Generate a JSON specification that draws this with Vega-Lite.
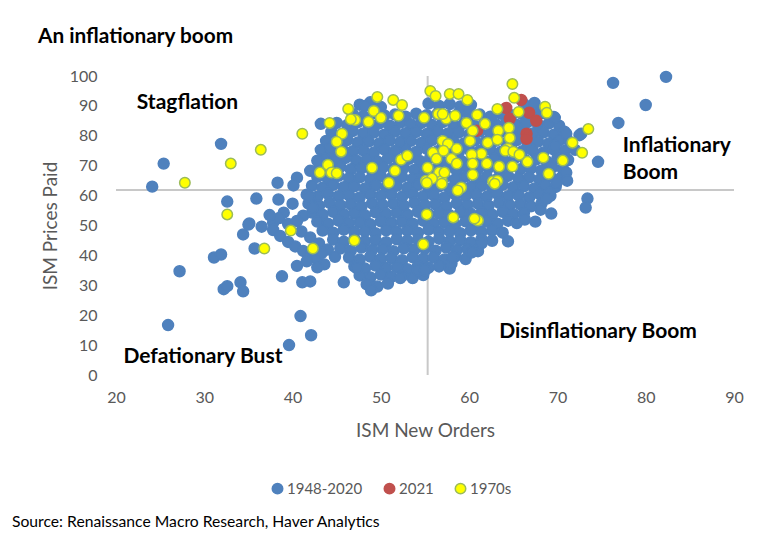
{
"$schema":"https://vega.github.io/schema/vega-lite/v6.json",
"width":618,"height":299,
"autosize":{"type":"none"},
"padding":{"left":116,"top":76,"right":31,"bottom":163},
"background":"white",
"title":{"text":"An inflationary boom","anchor":"start","frame":"group","dx":-78,"dy":-16,"font":"Lato","fontSize":20.8,"fontWeight":"bold","color":"black"},
"config":{"view":{"stroke":null},
"axis":{"domain":false,"ticks":false,"tickSize":0,"grid":false,"labelOverlap":false,"labelFlush":false,"labelFont":"Lato","labelFontSize":16,"labelColor":"#595959","titleFont":"Lato","titleFontSize":19,"titleFontWeight":"normal","titleColor":"#595959"},
"axisX":{"labelPadding":14,"titlePadding":16},
"axisY":{"labelPadding":19,"titlePadding":9},
"legend":{"orient":"none","legendX":154,"legendY":405,"direction":"horizontal","padding":0,"labelFont":"Lato","labelFontSize":15,"labelColor":"#595959","labelOffset":2,"columnPadding":18,"symbolSize":110,"symbolStrokeWidth":1.5,"symbolType":"circle","title":null}},
"datasets":{
"blue":[
{"x":47.6,"y":90.4},{"x":48.8,"y":91.2},{"x":50,"y":89.6},{"x":55.4,"y":90.8},{"x":56.6,"y":90},{"x":57.8,"y":90.6},{"x":59,"y":89.8},{"x":60.2,"y":90.3},{"x":66.2,"y":90.6},{"x":67.4,"y":89.4},
{"x":46.8,"y":87.3},{"x":48,"y":86.6},{"x":49.2,"y":87.6},{"x":50.4,"y":86.8},{"x":51.6,"y":87.1},{"x":52.8,"y":86.4},{"x":54,"y":87.4},{"x":55.2,"y":86.9},{"x":56.4,"y":87.3},{"x":57.6,"y":86.6},{"x":58.8,"y":87.6},{"x":60,"y":86.8},{"x":61.2,"y":87.1},{"x":62.4,"y":86.4},{"x":63.6,"y":87.4},{"x":64.8,"y":86.9},{"x":66,"y":87.3},{"x":67.2,"y":86.6},{"x":68.4,"y":87.6},{"x":69.6,"y":86.3},
{"x":45,"y":84.3},{"x":46.2,"y":83.6},{"x":47.4,"y":84.6},{"x":48.6,"y":83.8},{"x":49.8,"y":84.1},{"x":51,"y":83.4},{"x":52.2,"y":84.4},{"x":53.4,"y":83.9},{"x":54.6,"y":84.3},{"x":55.8,"y":83.6},{"x":57,"y":84.6},{"x":58.2,"y":83.8},{"x":59.4,"y":84.1},{"x":60.6,"y":83.4},{"x":61.8,"y":84.4},{"x":63,"y":83.9},{"x":64.2,"y":84.3},{"x":65.4,"y":83.6},{"x":66.6,"y":84.6},{"x":67.8,"y":83.8},{"x":69,"y":84.1},{"x":70.2,"y":83.4},
{"x":44.4,"y":81.3},{"x":45.6,"y":80.6},{"x":46.8,"y":81.6},{"x":48,"y":80.8},{"x":49.2,"y":81.1},{"x":50.4,"y":80.4},{"x":51.6,"y":81.4},{"x":52.8,"y":80.9},{"x":54,"y":81.3},{"x":55.2,"y":80.6},{"x":56.4,"y":81.6},{"x":57.6,"y":80.8},{"x":58.8,"y":81.1},{"x":60,"y":80.4},{"x":61.2,"y":81.4},{"x":62.4,"y":80.9},{"x":63.6,"y":81.3},{"x":64.8,"y":80.6},{"x":66,"y":81.6},{"x":67.2,"y":80.8},{"x":68.4,"y":81.1},{"x":69.6,"y":80.4},{"x":70.8,"y":81.4},
{"x":43.8,"y":78.3},{"x":45,"y":77.6},{"x":46.2,"y":78.6},{"x":47.4,"y":77.8},{"x":48.6,"y":78.1},{"x":49.8,"y":77.4},{"x":51,"y":78.4},{"x":52.2,"y":77.9},{"x":53.4,"y":78.3},{"x":54.6,"y":77.6},{"x":55.8,"y":78.6},{"x":57,"y":77.8},{"x":58.2,"y":78.1},{"x":59.4,"y":77.4},{"x":60.6,"y":78.4},{"x":61.8,"y":77.9},{"x":63,"y":78.3},{"x":64.2,"y":77.6},{"x":65.4,"y":78.6},{"x":66.6,"y":77.8},{"x":67.8,"y":78.1},{"x":69,"y":77.4},{"x":70.2,"y":78.4},{"x":71.4,"y":77.9},
{"x":43.2,"y":75.3},{"x":44.4,"y":74.6},{"x":45.6,"y":75.6},{"x":46.8,"y":74.8},{"x":48,"y":75.1},{"x":49.2,"y":74.4},{"x":50.4,"y":75.4},{"x":51.6,"y":74.9},{"x":52.8,"y":75.3},{"x":54,"y":74.6},{"x":55.2,"y":75.6},{"x":56.4,"y":74.8},{"x":57.6,"y":75.1},{"x":58.8,"y":74.4},{"x":60,"y":75.4},{"x":61.2,"y":74.9},{"x":62.4,"y":75.3},{"x":63.6,"y":74.6},{"x":64.8,"y":75.6},{"x":66,"y":74.8},{"x":67.2,"y":75.1},{"x":68.4,"y":74.4},{"x":69.6,"y":75.4},{"x":70.8,"y":74.9},{"x":72,"y":75.3},
{"x":43.6,"y":72.3},{"x":44.8,"y":71.6},{"x":46,"y":72.6},{"x":47.2,"y":71.8},{"x":48.4,"y":72.1},{"x":49.6,"y":71.4},{"x":50.8,"y":72.4},{"x":52,"y":71.9},{"x":53.2,"y":72.3},{"x":54.4,"y":71.6},{"x":55.6,"y":72.6},{"x":56.8,"y":71.8},{"x":58,"y":72.1},{"x":59.2,"y":71.4},{"x":60.4,"y":72.4},{"x":61.6,"y":71.9},{"x":62.8,"y":72.3},{"x":64,"y":71.6},{"x":65.2,"y":72.6},{"x":66.4,"y":71.8},{"x":67.6,"y":72.1},{"x":68.8,"y":71.4},{"x":70,"y":72.4},{"x":71.2,"y":71.9},
{"x":43,"y":69.3},{"x":44.2,"y":68.6},{"x":45.4,"y":69.6},{"x":46.6,"y":68.8},{"x":47.8,"y":69.1},{"x":49,"y":68.4},{"x":50.2,"y":69.4},{"x":51.4,"y":68.9},{"x":52.6,"y":69.3},{"x":53.8,"y":68.6},{"x":55,"y":69.6},{"x":56.2,"y":68.8},{"x":57.4,"y":69.1},{"x":58.6,"y":68.4},{"x":59.8,"y":69.4},{"x":61,"y":68.9},{"x":62.2,"y":69.3},{"x":63.4,"y":68.6},{"x":64.6,"y":69.6},{"x":65.8,"y":68.8},{"x":67,"y":69.1},{"x":68.2,"y":68.4},{"x":69.4,"y":69.4},{"x":70.6,"y":68.9},
{"x":42.8,"y":66.3},{"x":44,"y":65.6},{"x":45.2,"y":66.6},{"x":46.4,"y":65.8},{"x":47.6,"y":66.1},{"x":48.8,"y":65.4},{"x":50,"y":66.4},{"x":51.2,"y":65.9},{"x":52.4,"y":66.3},{"x":53.6,"y":65.6},{"x":54.8,"y":66.6},{"x":56,"y":65.8},{"x":57.2,"y":66.1},{"x":58.4,"y":65.4},{"x":59.6,"y":66.4},{"x":60.8,"y":65.9},{"x":62,"y":66.3},{"x":63.2,"y":65.6},{"x":64.4,"y":66.6},{"x":65.6,"y":65.8},{"x":66.8,"y":66.1},{"x":68,"y":65.4},{"x":69.2,"y":66.4},{"x":70.4,"y":65.9},
{"x":42.2,"y":63.3},{"x":43.4,"y":62.6},{"x":44.6,"y":63.6},{"x":45.8,"y":62.8},{"x":47,"y":63.1},{"x":48.2,"y":62.4},{"x":49.4,"y":63.4},{"x":50.6,"y":62.9},{"x":51.8,"y":63.3},{"x":53,"y":62.6},{"x":54.2,"y":63.6},{"x":55.4,"y":62.8},{"x":56.6,"y":63.1},{"x":57.8,"y":62.4},{"x":59,"y":63.4},{"x":60.2,"y":62.9},{"x":61.4,"y":63.3},{"x":62.6,"y":62.6},{"x":63.8,"y":63.6},{"x":65,"y":62.8},{"x":66.2,"y":63.1},{"x":67.4,"y":62.4},{"x":68.6,"y":63.4},{"x":69.8,"y":62.9},
{"x":41.6,"y":60.3},{"x":42.8,"y":59.6},{"x":44,"y":60.6},{"x":45.2,"y":59.8},{"x":46.4,"y":60.1},{"x":47.6,"y":59.4},{"x":48.8,"y":60.4},{"x":50,"y":59.9},{"x":51.2,"y":60.3},{"x":52.4,"y":59.6},{"x":53.6,"y":60.6},{"x":54.8,"y":59.8},{"x":56,"y":60.1},{"x":57.2,"y":59.4},{"x":58.4,"y":60.4},{"x":59.6,"y":59.9},{"x":60.8,"y":60.3},{"x":62,"y":59.6},{"x":63.2,"y":60.6},{"x":64.4,"y":59.8},{"x":65.6,"y":60.1},{"x":66.8,"y":59.4},{"x":68,"y":60.4},{"x":69.2,"y":59.9},
{"x":41.8,"y":57.3},{"x":43,"y":56.6},{"x":44.2,"y":57.6},{"x":45.4,"y":56.8},{"x":46.6,"y":57.1},{"x":47.8,"y":56.4},{"x":49,"y":57.4},{"x":50.2,"y":56.9},{"x":51.4,"y":57.3},{"x":52.6,"y":56.6},{"x":53.8,"y":57.6},{"x":55,"y":56.8},{"x":56.2,"y":57.1},{"x":57.4,"y":56.4},{"x":58.6,"y":57.4},{"x":59.8,"y":56.9},{"x":61,"y":57.3},{"x":62.2,"y":56.6},{"x":63.4,"y":57.6},{"x":64.6,"y":56.8},{"x":65.8,"y":57.1},{"x":67,"y":56.4},{"x":68.2,"y":57.4},
{"x":42.2,"y":54.3},{"x":43.4,"y":53.6},{"x":44.6,"y":54.6},{"x":45.8,"y":53.8},{"x":47,"y":54.1},{"x":48.2,"y":53.4},{"x":49.4,"y":54.4},{"x":50.6,"y":53.9},{"x":51.8,"y":54.3},{"x":53,"y":53.6},{"x":54.2,"y":54.6},{"x":55.4,"y":53.8},{"x":56.6,"y":54.1},{"x":57.8,"y":53.4},{"x":59,"y":54.4},{"x":60.2,"y":53.9},{"x":61.4,"y":54.3},{"x":62.6,"y":53.6},{"x":63.8,"y":54.6},{"x":65,"y":53.8},{"x":66.2,"y":54.1},
{"x":42.8,"y":51.3},{"x":44,"y":50.6},{"x":45.2,"y":51.6},{"x":46.4,"y":50.8},{"x":47.6,"y":51.1},{"x":48.8,"y":50.4},{"x":50,"y":51.4},{"x":51.2,"y":50.9},{"x":52.4,"y":51.3},{"x":53.6,"y":50.6},{"x":54.8,"y":51.6},{"x":56,"y":50.8},{"x":57.2,"y":51.1},{"x":58.4,"y":50.4},{"x":59.6,"y":51.4},{"x":60.8,"y":50.9},{"x":62,"y":51.3},{"x":63.2,"y":50.6},{"x":64.4,"y":51.6},{"x":65.4,"y":50.8},
{"x":43.4,"y":48.3},{"x":44.6,"y":47.6},{"x":45.8,"y":48.6},{"x":47,"y":47.8},{"x":48.2,"y":48.1},{"x":49.4,"y":47.4},{"x":50.6,"y":48.4},{"x":51.8,"y":47.9},{"x":53,"y":48.3},{"x":54.2,"y":47.6},{"x":55.4,"y":48.6},{"x":56.6,"y":47.8},{"x":57.8,"y":48.1},{"x":59,"y":47.4},{"x":60.2,"y":48.4},{"x":61.4,"y":47.9},{"x":62.6,"y":48.3},{"x":63.8,"y":47.6},
{"x":44.6,"y":45.3},{"x":45.8,"y":44.6},{"x":47,"y":45.6},{"x":48.2,"y":44.8},{"x":49.4,"y":45.1},{"x":50.6,"y":44.4},{"x":51.8,"y":45.4},{"x":53,"y":44.9},{"x":54.2,"y":45.3},{"x":55.4,"y":44.6},{"x":56.6,"y":45.6},{"x":57.8,"y":44.8},{"x":59,"y":45.1},{"x":60.2,"y":44.4},{"x":61.4,"y":45.4},{"x":62.6,"y":44.9},
{"x":45.4,"y":42.3},{"x":46.6,"y":41.6},{"x":47.8,"y":42.6},{"x":49,"y":41.8},{"x":50.2,"y":42.1},{"x":51.4,"y":41.4},{"x":52.6,"y":42.4},{"x":53.8,"y":41.9},{"x":55,"y":42.3},{"x":56.2,"y":41.6},{"x":57.4,"y":42.6},{"x":58.6,"y":41.8},{"x":59.8,"y":42.1},{"x":61,"y":41.4},
{"x":46.4,"y":39.3},{"x":47.6,"y":38.6},{"x":48.8,"y":39.6},{"x":50,"y":38.8},{"x":51.2,"y":39.1},{"x":52.4,"y":38.4},{"x":53.6,"y":39.4},{"x":54.8,"y":38.9},{"x":56,"y":39.3},{"x":57.2,"y":38.6},{"x":58.4,"y":39.6},{"x":59.6,"y":38.8},
{"x":47,"y":36.3},{"x":48.2,"y":35.6},{"x":49.4,"y":36.6},{"x":50.6,"y":35.8},{"x":51.8,"y":36.1},{"x":53,"y":35.4},{"x":54.2,"y":36.4},{"x":55.4,"y":35.9},{"x":56.6,"y":36.3},{"x":57.8,"y":35.6},
{"x":47.6,"y":33.3},{"x":48.8,"y":32.6},{"x":50,"y":33.6},{"x":51.2,"y":32.8},{"x":52.4,"y":33.1},{"x":53.6,"y":32.4},{"x":54.8,"y":33.4},
{"x":48.4,"y":30.3},{"x":49.6,"y":29.6},{"x":50.8,"y":30.6},
{"x":24.1,"y":63},{"x":25.4,"y":70.7},{"x":31.9,"y":77.3},{"x":32.6,"y":58},{"x":35.9,"y":59},{"x":38.3,"y":64.3},{"x":38.4,"y":58.7},{"x":35.1,"y":50.7},{"x":40.5,"y":66},{"x":40.1,"y":63.4},{"x":41.9,"y":59.7},{"x":37.8,"y":51},{"x":39,"y":54.3},{"x":40,"y":57.3},{"x":43.2,"y":84},{"x":44.3,"y":76},{"x":42.8,"y":71.7},{"x":42,"y":68.3},{"x":41.2,"y":53.3},{"x":42.3,"y":56},
{"x":27.2,"y":34.7},{"x":25.9,"y":16.7},{"x":31.1,"y":39.3},{"x":31.9,"y":40.3},{"x":32.2,"y":28.7},{"x":32.6,"y":29.7},{"x":34.1,"y":31},{"x":34.4,"y":28},{"x":34.4,"y":47},{"x":35,"y":50.3},{"x":35.7,"y":42.3},{"x":38.8,"y":33},{"x":41.1,"y":31},{"x":42,"y":31.3},{"x":45.8,"y":31},{"x":48.9,"y":28.3},{"x":40.9,"y":19.7},{"x":42.1,"y":13.3},{"x":39.6,"y":10},{"x":52.2,"y":32.4},{"x":54.2,"y":35},{"x":47.3,"y":35.7},
{"x":36.5,"y":49.6},{"x":37.8,"y":48.5},{"x":38.6,"y":46.5},{"x":39.5,"y":44.5},{"x":40.3,"y":43},{"x":41.2,"y":41.5},{"x":42,"y":40},{"x":42.8,"y":38.5},{"x":43.6,"y":37},{"x":40.5,"y":36.5},{"x":41.6,"y":38},{"x":42.8,"y":36},{"x":41,"y":48},{"x":42,"y":46},{"x":43,"y":44},{"x":44,"y":42},{"x":44.8,"y":39.5},{"x":39.5,"y":50.5},{"x":40.5,"y":51.5},{"x":38.5,"y":52.5},{"x":37.4,"y":53.5},{"x":43.3,"y":40.8},
{"x":76.3,"y":97.7},{"x":82.3,"y":99.7},{"x":80,"y":90.3},{"x":76.9,"y":84.3},{"x":74.6,"y":71.3},{"x":73.4,"y":59},{"x":73.2,"y":56},{"x":72.7,"y":80.7},{"x":71,"y":80.7},{"x":69.7,"y":86},{"x":67.4,"y":91},{"x":72.5,"y":80.2},{"x":69.7,"y":76.7},{"x":71,"y":72.3},{"x":71,"y":67.7},{"x":69.9,"y":64.3},{"x":71.1,"y":65},{"x":69.1,"y":61},{"x":68.8,"y":59},{"x":68.1,"y":55.3},{"x":69.3,"y":54},{"x":66.3,"y":52},{"x":67.5,"y":51.3},{"x":64.4,"y":44.7},{"x":61.4,"y":44},{"x":60.3,"y":41},{"x":58,"y":37.3},{"x":58.1,"y":39.3},{"x":55,"y":35},
{"x":48.2,"y":90},{"x":60,"y":89},{"x":62.5,"y":86},{"x":66.4,"y":84.3}
],
"red":[{"x":64.2,"y":89.3},{"x":65.9,"y":92},{"x":64.6,"y":85.7},{"x":66.8,"y":87.7},{"x":67.6,"y":85},{"x":66.5,"y":80.7},{"x":66.5,"y":79},{"x":60.9,"y":81.7}],
"yellow":[
{"x":41.1,"y":80.7},{"x":44.2,"y":84.3},{"x":46.3,"y":89},{"x":47.1,"y":85.3},{"x":46.6,"y":85.5},{"x":48.6,"y":84.7},{"x":49.6,"y":93},{"x":49.2,"y":88.3},{"x":50,"y":86},{"x":51.4,"y":92},{"x":52.4,"y":90.3},{"x":52,"y":86.7},{"x":54.9,"y":86},{"x":55.6,"y":95},{"x":56.2,"y":93.3},{"x":57.8,"y":94},{"x":56.5,"y":87.3},{"x":57.4,"y":85.7},{"x":58.4,"y":86.7},{"x":45.6,"y":80.7},{"x":45,"y":78},{"x":45.5,"y":74.7},{"x":44,"y":70.3},{"x":43.1,"y":67.7},{"x":44.4,"y":67.7},{"x":45,"y":67.5},{"x":49,"y":69.3},{"x":50.9,"y":64.3},{"x":51.6,"y":68.3},{"x":52.3,"y":72},{"x":53,"y":73.3},{"x":55.3,"y":69.3},{"x":55.1,"y":65},{"x":55.9,"y":74.3},{"x":56.3,"y":72.3},{"x":57,"y":78.3},{"x":57.6,"y":77.3},{"x":58,"y":72.3},{"x":58.6,"y":70.7},{"x":56.6,"y":67.7},{"x":56.9,"y":65},{"x":55.8,"y":65.7},{"x":58.6,"y":75.7},
{"x":64.9,"y":97.3},{"x":65.1,"y":92.7},{"x":58.8,"y":94},{"x":59.8,"y":92},{"x":63.2,"y":89},{"x":65.6,"y":88},{"x":68.6,"y":89.7},{"x":68.8,"y":87.7},{"x":73.5,"y":82.3},{"x":71.7,"y":77.7},{"x":72.8,"y":74.3},{"x":70.6,"y":71.7},{"x":68.4,"y":72.7},{"x":66.6,"y":71.3},{"x":69,"y":67.3},{"x":57,"y":87.3},{"x":59.7,"y":84.3},{"x":60.9,"y":87},{"x":61.8,"y":84},{"x":60.4,"y":81.7},{"x":60.1,"y":78.3},{"x":62.1,"y":77.7},{"x":63.3,"y":81.7},{"x":64.5,"y":82.7},{"x":64.6,"y":79.3},{"x":63.2,"y":78.7},{"x":64.4,"y":75.7},{"x":64.1,"y":75},{"x":65,"y":74.7},{"x":65.7,"y":73.7},{"x":61.4,"y":74},{"x":60.3,"y":73.7},{"x":57.1,"y":75},{"x":60.4,"y":70.7},{"x":62,"y":70.7},{"x":63.4,"y":69.7},{"x":64.9,"y":69.7},{"x":60.4,"y":67},{"x":62.7,"y":64.7},{"x":63.2,"y":65},{"x":59.1,"y":62.7},{"x":57.2,"y":67.7},{"x":55.2,"y":64.3},{"x":56.9,"y":64},{"x":58.7,"y":61.7},{"x":55.2,"y":53.7},{"x":58.2,"y":52.7},{"x":47,"y":45},{"x":42.3,"y":42.3},{"x":54.8,"y":43.7},{"x":62.9,"y":64},{"x":61,"y":51.7},{"x":60.6,"y":52.3},
{"x":27.8,"y":64.3},{"x":33,"y":70.7},{"x":36.4,"y":75.3},{"x":32.6,"y":53.7},{"x":39.8,"y":48.3},{"x":36.8,"y":42.3}
]},
"layer":[
{"data":{"values":[{}]},"mark":{"type":"rule","color":"#C8C8C8","strokeWidth":2},"encoding":{"x":{"datum":55.3,"type":"quantitative","scale":{"domain":[20,90],"nice":false,"zero":false},"axis":{"values":[20,30,40,50,60,70,80,90],"labelOverlap":false,"labelFlush":false,"title":"ISM New Orders"}}}},
{"data":{"values":[{}]},"mark":{"type":"rule","color":"#C8C8C8","strokeWidth":2},"encoding":{"y":{"datum":61.9,"type":"quantitative","scale":{"domain":[0,100],"nice":false,"zero":false},"axis":{"values":[0,10,20,30,40,50,60,70,80,90,100],"labelOverlap":false,"labelFlush":false,"tickCount":11,"title":"ISM Prices Paid"}}}},
{"data":{"name":"blue"},"mark":{"type":"circle","size":120,"opacity":1,"strokeWidth":1.5},
"encoding":{"x":{"field":"x","type":"quantitative","scale":{"domain":[20,90],"nice":false,"zero":false},"axis":{"values":[20,30,40,50,60,70,80,90],"labelOverlap":false,"labelFlush":false,"title":"ISM New Orders"}},
"y":{"field":"y","type":"quantitative","scale":{"domain":[0,100],"nice":false,"zero":false},"axis":{"values":[0,10,20,30,40,50,60,70,80,90,100],"labelOverlap":false,"labelFlush":false,"tickCount":11,"title":"ISM Prices Paid"}},
"color":{"datum":"1948-2020","scale":{"domain":["1948-2020","2021","1970s"],"range":["#4F81BD","#C0504D","#FFFF00"]},"legend":{"title":null}},
"stroke":{"datum":"1948-2020","scale":{"domain":["1948-2020","2021","1970s"],"range":["#4F81BD","#C0504D","#9BBB59"]},"legend":{"title":null}}}},
{"data":{"name":"red"},"mark":{"type":"circle","size":120,"opacity":1,"strokeWidth":1.5},
"encoding":{"x":{"field":"x","type":"quantitative","scale":{"domain":[20,90],"nice":false,"zero":false}},"y":{"field":"y","type":"quantitative","scale":{"domain":[0,100],"nice":false,"zero":false}},
"color":{"datum":"2021"},"stroke":{"datum":"2021"}}},
{"data":{"name":"yellow"},"mark":{"type":"circle","size":110,"opacity":1,"strokeWidth":1.5},
"encoding":{"x":{"field":"x","type":"quantitative","scale":{"domain":[20,90],"nice":false,"zero":false}},"y":{"field":"y","type":"quantitative","scale":{"domain":[0,100],"nice":false,"zero":false}},
"color":{"datum":"1970s"},"stroke":{"datum":"1970s"}}},
{"data":{"values":[{}]},"mark":{"type":"text","text":"Stagflation","font":"Lato","fontSize":21,"fontWeight":"bold","color":"black","align":"center","baseline":"middle"},"encoding":{"x":{"datum":28.1,"type":"quantitative"},"y":{"datum":91,"type":"quantitative"}}},
{"data":{"values":[{}]},"mark":{"type":"text","text":"Inflationary","font":"Lato","fontSize":21,"fontWeight":"bold","color":"black","align":"left","baseline":"middle"},"encoding":{"x":{"datum":77.4,"type":"quantitative"},"y":{"datum":76.6,"type":"quantitative"}}},
{"data":{"values":[{}]},"mark":{"type":"text","text":"Boom","font":"Lato","fontSize":21,"fontWeight":"bold","color":"black","align":"left","baseline":"middle"},"encoding":{"x":{"datum":77.4,"type":"quantitative"},"y":{"datum":67.6,"type":"quantitative"}}},
{"data":{"values":[{}]},"mark":{"type":"text","text":"Disinflationary Boom","font":"Lato","fontSize":21,"fontWeight":"bold","color":"black","align":"center","baseline":"middle"},"encoding":{"x":{"datum":74.6,"type":"quantitative"},"y":{"datum":14.4,"type":"quantitative"}}},
{"data":{"values":[{}]},"mark":{"type":"text","text":"Defationary Bust","font":"Lato","fontSize":21,"fontWeight":"bold","color":"black","align":"center","baseline":"middle"},"encoding":{"x":{"datum":29.85,"type":"quantitative"},"y":{"datum":6,"type":"quantitative"}}},
{"data":{"values":[{}]},"mark":{"type":"text","text":"Source: Renaissance Macro Research, Haver Analytics","font":"Lato","fontSize":15.7,"color":"black","align":"left","baseline":"middle"},"encoding":{"x":{"datum":8.22,"type":"quantitative"},"y":{"datum":-49.2,"type":"quantitative"}}}
]
}
